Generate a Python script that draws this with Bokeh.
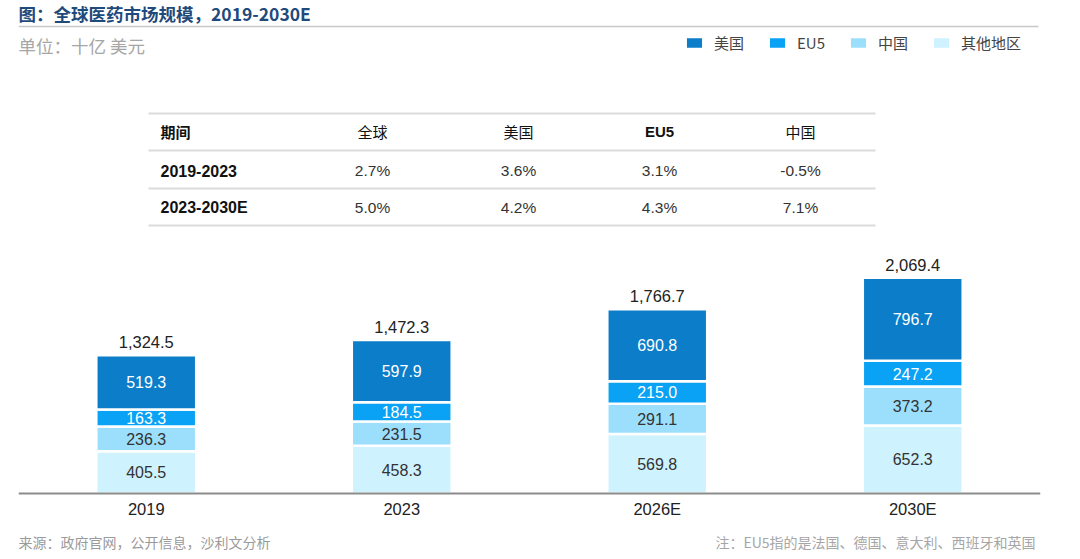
from bokeh.plotting import figure
from bokeh.models import (ColumnDataSource, FactorRange, Range1d, Label, LabelSet,
                          BoxAnnotation, Legend, LegendItem)
from bokeh.core.properties import value
from bokeh.embed import file_html
from bokeh.resources import INLINE

# ---------------- data ----------------
years = ["2019", "2023", "2026E", "2030E"]
us = [519.3, 597.9, 690.8, 796.7]
eu5 = [163.3, 184.5, 215.0, 247.2]
china = [236.3, 231.5, 291.1, 373.2]
other = [405.5, 458.3, 569.8, 652.3]
totals = [1324.5, 1472.3, 1766.7, 2069.4]

series_keys = ["other", "china", "eu5", "us"]
series_names = {"us": "美国", "eu5": "EU5", "china": "中国", "other": "其他地区"}
series_colors = {"us": "#0b7dc9", "eu5": "#0aa2f4", "china": "#9cdffd", "other": "#cff2ff"}
label_colors = {"us": "white", "eu5": "white", "china": "#333333", "other": "#333333"}

table_header = ["期间", "全球", "美国", "EU5", "中国"]
periods = ["2019-2023", "2023-2030E"]
cagr_global = ["2.7%", "5.0%"]
cagr_us = ["3.6%", "4.2%"]
cagr_eu5 = ["3.1%", "4.3%"]
cagr_china = ["-0.5%", "7.1%"]

title_text = "图：全球医药市场规模，2019-2030E"
unit_text = "单位：十亿 美元"
source_text = "来源：政府官网，公开信息，沙利文分析"
note_text = "注：EU5指的是法国、德国、意大利、西班牙和英国"

CJK = "Noto Sans CJK SC"
LAT = "Liberation Sans"

# ---------------- figure ----------------
W, H = 1064, 555
BL, BR = 18, 24
BASE = 493          # page y of the value-0 baseline
K = 0.1043          # px per unit

p = figure(width=W, height=H, output_backend="svg", toolbar_location=None,
           x_range=FactorRange(factors=years, range_padding=0),
           y_range=Range1d(-(H - BASE) / K, BASE / K),
           min_border_left=BL, min_border_right=BR, min_border_bottom=0, min_border_top=0)
p.outline_line_color = None
p.grid.visible = False
p.yaxis.visible = False
p.background_fill_color = "white"
p.border_fill_color = "white"

xa = p.xaxis[0]
xa.fixed_location = 0
xa.axis_line_color = "#8c8c8c"
xa.axis_line_width = 2
xa.major_tick_line_color = None
xa.minor_tick_line_color = None
xa.major_tick_out = 0
xa.major_tick_in = 0
xa.major_label_standoff = 6
xa.major_label_text_font = LAT
xa.major_label_text_font_size = "16.5px"
xa.major_label_text_color = "#222222"

src = ColumnDataSource(dict(year=years, us=us, eu5=eu5, china=china, other=other, total=totals))
renderers = p.vbar_stack(series_keys, x="year", width=0.391, source=src,
                         color=[series_colors[k] for k in series_keys],
                         line_color="white", line_width=2.5)
rmap = dict(zip(series_keys, renderers))

# segment labels
data = {"us": us, "eu5": eu5, "china": china, "other": other}
lx, ly, lt, lc = [], [], [], []
for i, yr in enumerate(years):
    base = 0.0
    for k in series_keys:
        v = data[k][i]
        lx.append(yr)
        ly.append(base + v / 2)
        lt.append(f"{v:.1f}")
        lc.append(label_colors[k])
        base += v
lsrc = ColumnDataSource(dict(x=lx, y=ly, t=lt, c=lc))
p.add_layout(LabelSet(x="x", y="y", text="t", source=lsrc, text_color="c",
                      text_font=value(LAT), text_font_size="16px",
                      text_align="center", text_baseline="middle"))

tsrc = ColumnDataSource(dict(x=years, y=totals, t=[f"{v:,.1f}" for v in totals]))
p.add_layout(LabelSet(x="x", y="y", text="t", source=tsrc, y_offset=7,
                      text_color="#222222", text_font=value(LAT), text_font_size="16.5px",
                      text_align="center", text_baseline="bottom"))

# helpers (screen coords: from frame left / frame bottom)
def fx(page_x):
    return page_x - BL

def fy(page_y):
    return H - page_y

# legend
items = [LegendItem(label=series_names[k], renderers=[rmap[k]]) for k in ["us", "eu5", "china", "other"]]
leg = Legend(items=items, orientation="horizontal", location=(fx(683), fy(53)),
             glyph_width=22, glyph_height=15, label_standoff=9, spacing=22,
             padding=0, margin=0, border_line_color=None, background_fill_alpha=0,
             label_text_font=CJK, label_text_font_size="15px", label_text_color="#444444",
             label_height=15)
p.add_layout(leg, "center")

def txt(s, px, py, size, color, font, style="normal", align="left"):
    p.add_layout(Label(x=fx(px), y=fy(py), x_units="screen", y_units="screen", text=s,
                       text_font=font, text_font_size=size, text_color=color,
                       text_font_style=style, text_align=align, text_baseline="middle"))

def hline(px0, px1, py, thick, color):
    p.add_layout(BoxAnnotation(left=fx(px0), right=fx(px1), bottom=fy(py + thick / 2), top=fy(py - thick / 2),
                               left_units="screen", right_units="screen",
                               bottom_units="screen", top_units="screen",
                               fill_color=color, fill_alpha=1, line_color=None))

# title, unit
txt(title_text, 18, 13, "17.5px", "#1f4a7c", CJK, style="bold")
hline(18, 1038, 26, 1.5, "#c8c8c8")
txt(unit_text, 18, 45, "17.5px", "#a6a6a6", CJK)

# table
for yy in [113, 150, 188, 225]:
    hline(148, 875, yy, 2, "#dcdcdc")
col_x = [160, 372, 518, 659, 800]
txt(table_header[0], col_x[0], 131, "15px", "#111111", CJK, style="bold")
for j in range(1, 5):
    txt(table_header[j], col_x[j], 131, "15px", "#111111",
        LAT if table_header[j] == "EU5" else CJK,
        style="bold" if table_header[j] == "EU5" else "normal", align="center")
row_y = [170, 207]
for r in range(2):
    txt(periods[r], col_x[0], row_y[r], "16px", "#111111", LAT, style="bold")
    for j, col in enumerate([cagr_global, cagr_us, cagr_eu5, cagr_china]):
        txt(col[r], col_x[j + 1], row_y[r], "15.5px", "#333333", LAT, align="center")

# footer
txt(source_text, 18, 541, "14px", "#9a9a9a", CJK)
txt(note_text, 1035, 541, "14px", "#a6a6a6", CJK, align="right")

open("out.html", "w").write(file_html(p, INLINE))
